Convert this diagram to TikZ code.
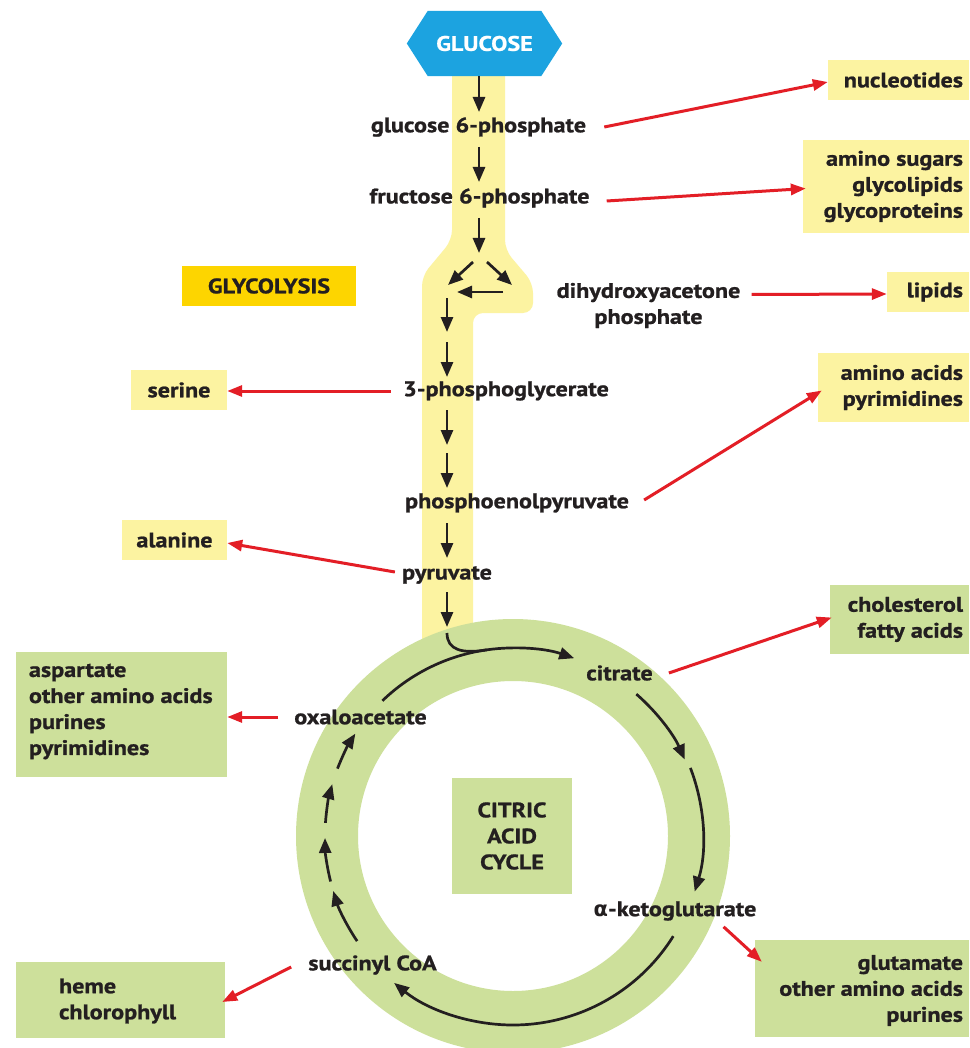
\documentclass[tikz,border=0pt]{standalone}
\usepackage{fontspec}
\setmainfont{PT Sans}[FakeStretch=1.15, BoldFont={PT Sans Bold}, BoldFeatures={FakeBold=1}]
\newfontfamily\grk{DejaVu Sans}
\usetikzlibrary{arrows.meta,calc}
\definecolor{bandyel}{HTML}{FCF3A1}
\definecolor{gold}{HTML}{FDD500}
\definecolor{leaf}{HTML}{CDE09B}
\definecolor{glblue}{HTML}{1CA3E0}
\definecolor{arrred}{HTML}{E31E26}
\definecolor{ink}{HTML}{231F20}
\begin{document}
\begin{tikzpicture}[x=1pt,y=1pt,
  font=\fontsize{21}{26}\selectfont\bfseries,
  lbl/.style={inner sep=0pt, align=center, text=ink},
  ybox/.style={fill=bandyel, inner sep=0pt},
  gbox/.style={fill=leaf, inner sep=0pt},
  blk/.style={draw=ink, line width=2.7pt, -{Triangle[length=15pt,width=12pt]}},
  redarr/.style={draw=arrred, line width=3pt, -{Triangle[length=15pt,width=11pt]}}]
\useasboundingbox (0,0) rectangle (969,-1048);
\fill[white] (0,0) rectangle (969,-1048);
\clip (0,0) rectangle (969,-1048);

% glycolysis band
\fill[bandyel, rounded corners=10pt] (452,-60) -- (452,-240) -- (422,-276) -- (422,-670)
  -- (473,-670) -- (473,-313) -- (533,-313) -- (533,-283) -- (505,-250) -- (505,-60) -- cycle;

% citric acid ring
\coordinate (C) at (513,-836);
\fill[leaf, even odd rule] (C) circle[radius=217] (C) circle[radius=155];

% glucose hexagon
\node[minimum width=155pt, minimum height=65pt, inner sep=0pt] (glc) at (484.5,-43.5) {};
\fill[glblue] (glc.west) -- ([xshift=21pt]glc.north west) -- ([xshift=-21pt]glc.north east)
  -- (glc.east) -- ([xshift=-21pt]glc.south east) -- ([xshift=21pt]glc.south west) -- cycle;
\node[lbl, text=white] (glctxt) at (glc) {GLUCOSE};

% intermediates
\node[lbl] (g6p) at (478.5,-127) {glucose 6-phosphate};
\node[lbl] (f6p) at (479.5,-198) {fructose 6-phosphate};
\node[lbl] (dhap) at (648.5,-305.5) {dihydroxyacetone\\phosphate};
\node[lbl] (pg3) at (506,-391) {3-phosphoglycerate};
\node[lbl] (pep) at (517,-503) {phosphoenolpyruvate};
\node[lbl] (pyr) at (447,-575) {pyruvate};
\node[lbl] (cit) at (619.5,-673) {citrate};
\node[lbl] (oaa) at (360.5,-717) {oxaloacetate};
\node[lbl] (akg) at (675,-911) {{\grk α}-ketoglutarate};
\node[lbl] (suc) at (372.5,-965) {succinyl CoA};

% boxes
\node[fill=gold, inner sep=0pt, minimum width=174pt, minimum height=40pt, text=ink] (glyc) at (269,-286) {GLYCOLYSIS};
\node[ybox, minimum width=96pt, minimum height=40pt, text=ink] (serine) at (179,-390) {serine};
\node[ybox, minimum width=105pt, minimum height=40pt, text=ink] (alanine) at (174.5,-540) {alanine};
\node[ybox, minimum width=141pt, minimum height=40pt] (nucl) at (898.5,-80) {};
\node[lbl, anchor=east] (nuclt) at ([xshift=-6pt]nucl.east) {nucleotides};
\node[ybox, minimum width=166pt, minimum height=93pt] (amsug) at (886,-186.5) {};
\node[lbl, align=right, anchor=east] (amsugt) at ([xshift=-6pt]amsug.east) {amino sugars\\glycolipids\\glycoproteins};
\node[ybox, minimum width=82pt, minimum height=40pt] (lipids) at (928,-292) {};
\node[lbl, anchor=east] (lipidst) at ([xshift=-6pt]lipids.east) {lipids};
\node[ybox, minimum width=151pt, minimum height=69pt] (aapyr) at (893.5,-387.5) {};
\node[lbl, align=right, anchor=east] (aapyrt) at ([xshift=-6pt]aapyr.east) {amino acids\\pyrimidines};
\node[gbox, minimum width=139pt, minimum height=69pt] (chol) at (899.5,-619.5) {};
\node[lbl, align=right, anchor=east] (cholt) at ([xshift=-6pt]chol.east) {cholesterol\\fatty acids};
\node[gbox, minimum width=214pt, minimum height=97pt] (glut) at (862,-988.5) {};
\node[lbl, align=right, anchor=east] (glutt) at ([xshift=-6pt,yshift=-2pt]glut.east) {glutamate\\other amino acids\\purines};
\node[gbox, minimum width=211pt, minimum height=125pt] (asp) at (121.5,-714.5) {};
\node[lbl, align=left, anchor=west] (aspt) at ([xshift=13pt,yshift=3pt]asp.west) {aspartate\\other amino acids\\purines\\pyrimidines};
\node[gbox, minimum width=209pt, minimum height=76pt] (heme) at (120.5,-1000) {};
\node[lbl, align=left, anchor=west] (hemet) at ([xshift=43pt,yshift=-1pt]heme.west) {heme\\chlorophyll};
\node[gbox, minimum width=120pt, minimum height=116pt, align=center, text=ink] (cac) at (512,-836) {CITRIC\\ACID\\CYCLE};

% glycolysis arrows
\draw[blk] (479,-76) -- (479,-112);
\draw[blk] (479,-147) -- (479,-182);
\draw[blk] (479,-218) -- (479,-253);
\draw[blk] (473,-262) -- (448,-285);
\draw[blk] (487,-262) -- (512,-285);
\draw[blk] (503,-292) -- (457,-292);
\draw[blk] (447,-298) -- (447,-332);
\draw[blk] (447,-342) -- (447,-377);
\draw[blk] (447,-410) -- (447,-445);
\draw[blk] (447,-453) -- (447,-488);
\draw[blk] (447,-523) -- (447,-558);
\draw[blk] (447,-592) -- (447,-627);

% cycle arrows
\draw[blk, -] ($(C)+(134:188)$) arc[start angle=134, end angle=98, radius=188];
\draw[blk] (447,-633) .. controls (447,-650) and (462,-654) .. ($(C)+(98:188)$) arc[start angle=98, end angle=71, radius=188];
\draw[blk] ($(C)+(49:188)$) arc[start angle=49, end angle=24, radius=188];
\draw[blk] ($(C)+(21:190)$) arc[start angle=21, end angle=-17, radius=190];
\draw[blk] ($(C)+(-32:189)$) arc[start angle=-32, end angle=-129, radius=189];
\draw[blk] ($(C)+(214:188)$) arc[start angle=214, end angle=197, radius=188];
\draw[blk] ($(C)+(194:188)$) arc[start angle=194, end angle=180.6, radius=188];
\draw[blk] ($(C)+(176:188)$) arc[start angle=176, end angle=164, radius=188];
\draw[blk] ($(C)+(159:188)$) arc[start angle=159, end angle=147, radius=188];

% red arrows
\draw[redarr] ([xshift=18pt]g6p.east) -- ([yshift=-2pt]nucl.west);
\draw[redarr] ([xshift=17pt,yshift=-3pt]f6p.east) -- ([xshift=3pt,yshift=-2pt]amsug.west);
\draw[redarr] ([xshift=11pt,yshift=11pt]dhap.east) -- ([yshift=-2pt]lipids.west);
\draw[redarr] ([xshift=15pt,yshift=3pt]pep.east) -- ([xshift=4pt,yshift=-3pt]aapyr.west);
\draw[redarr] ([xshift=-12pt]pg3.west) -- (pg3.west -| serine.east);
\draw[redarr] ([xshift=-7pt,yshift=3pt]pyr.west) -- ([yshift=-3pt]alanine.east);
\draw[redarr] ([xshift=16pt]cit.east) -- ([xshift=2pt,yshift=2pt]chol.west);
\draw[redarr] ([xshift=-33pt,yshift=-6pt]akg.south east) -- ([shift={(7pt,-22pt)}]glut.north west);
\draw[redarr] ([xshift=-16pt]oaa.west) -- (oaa.west -| asp.east);
\draw[redarr] ([xshift=-17pt,yshift=-2pt]suc.west) -- ([xshift=-3pt,yshift=-2pt]heme.east);
\end{tikzpicture}
\end{document}
